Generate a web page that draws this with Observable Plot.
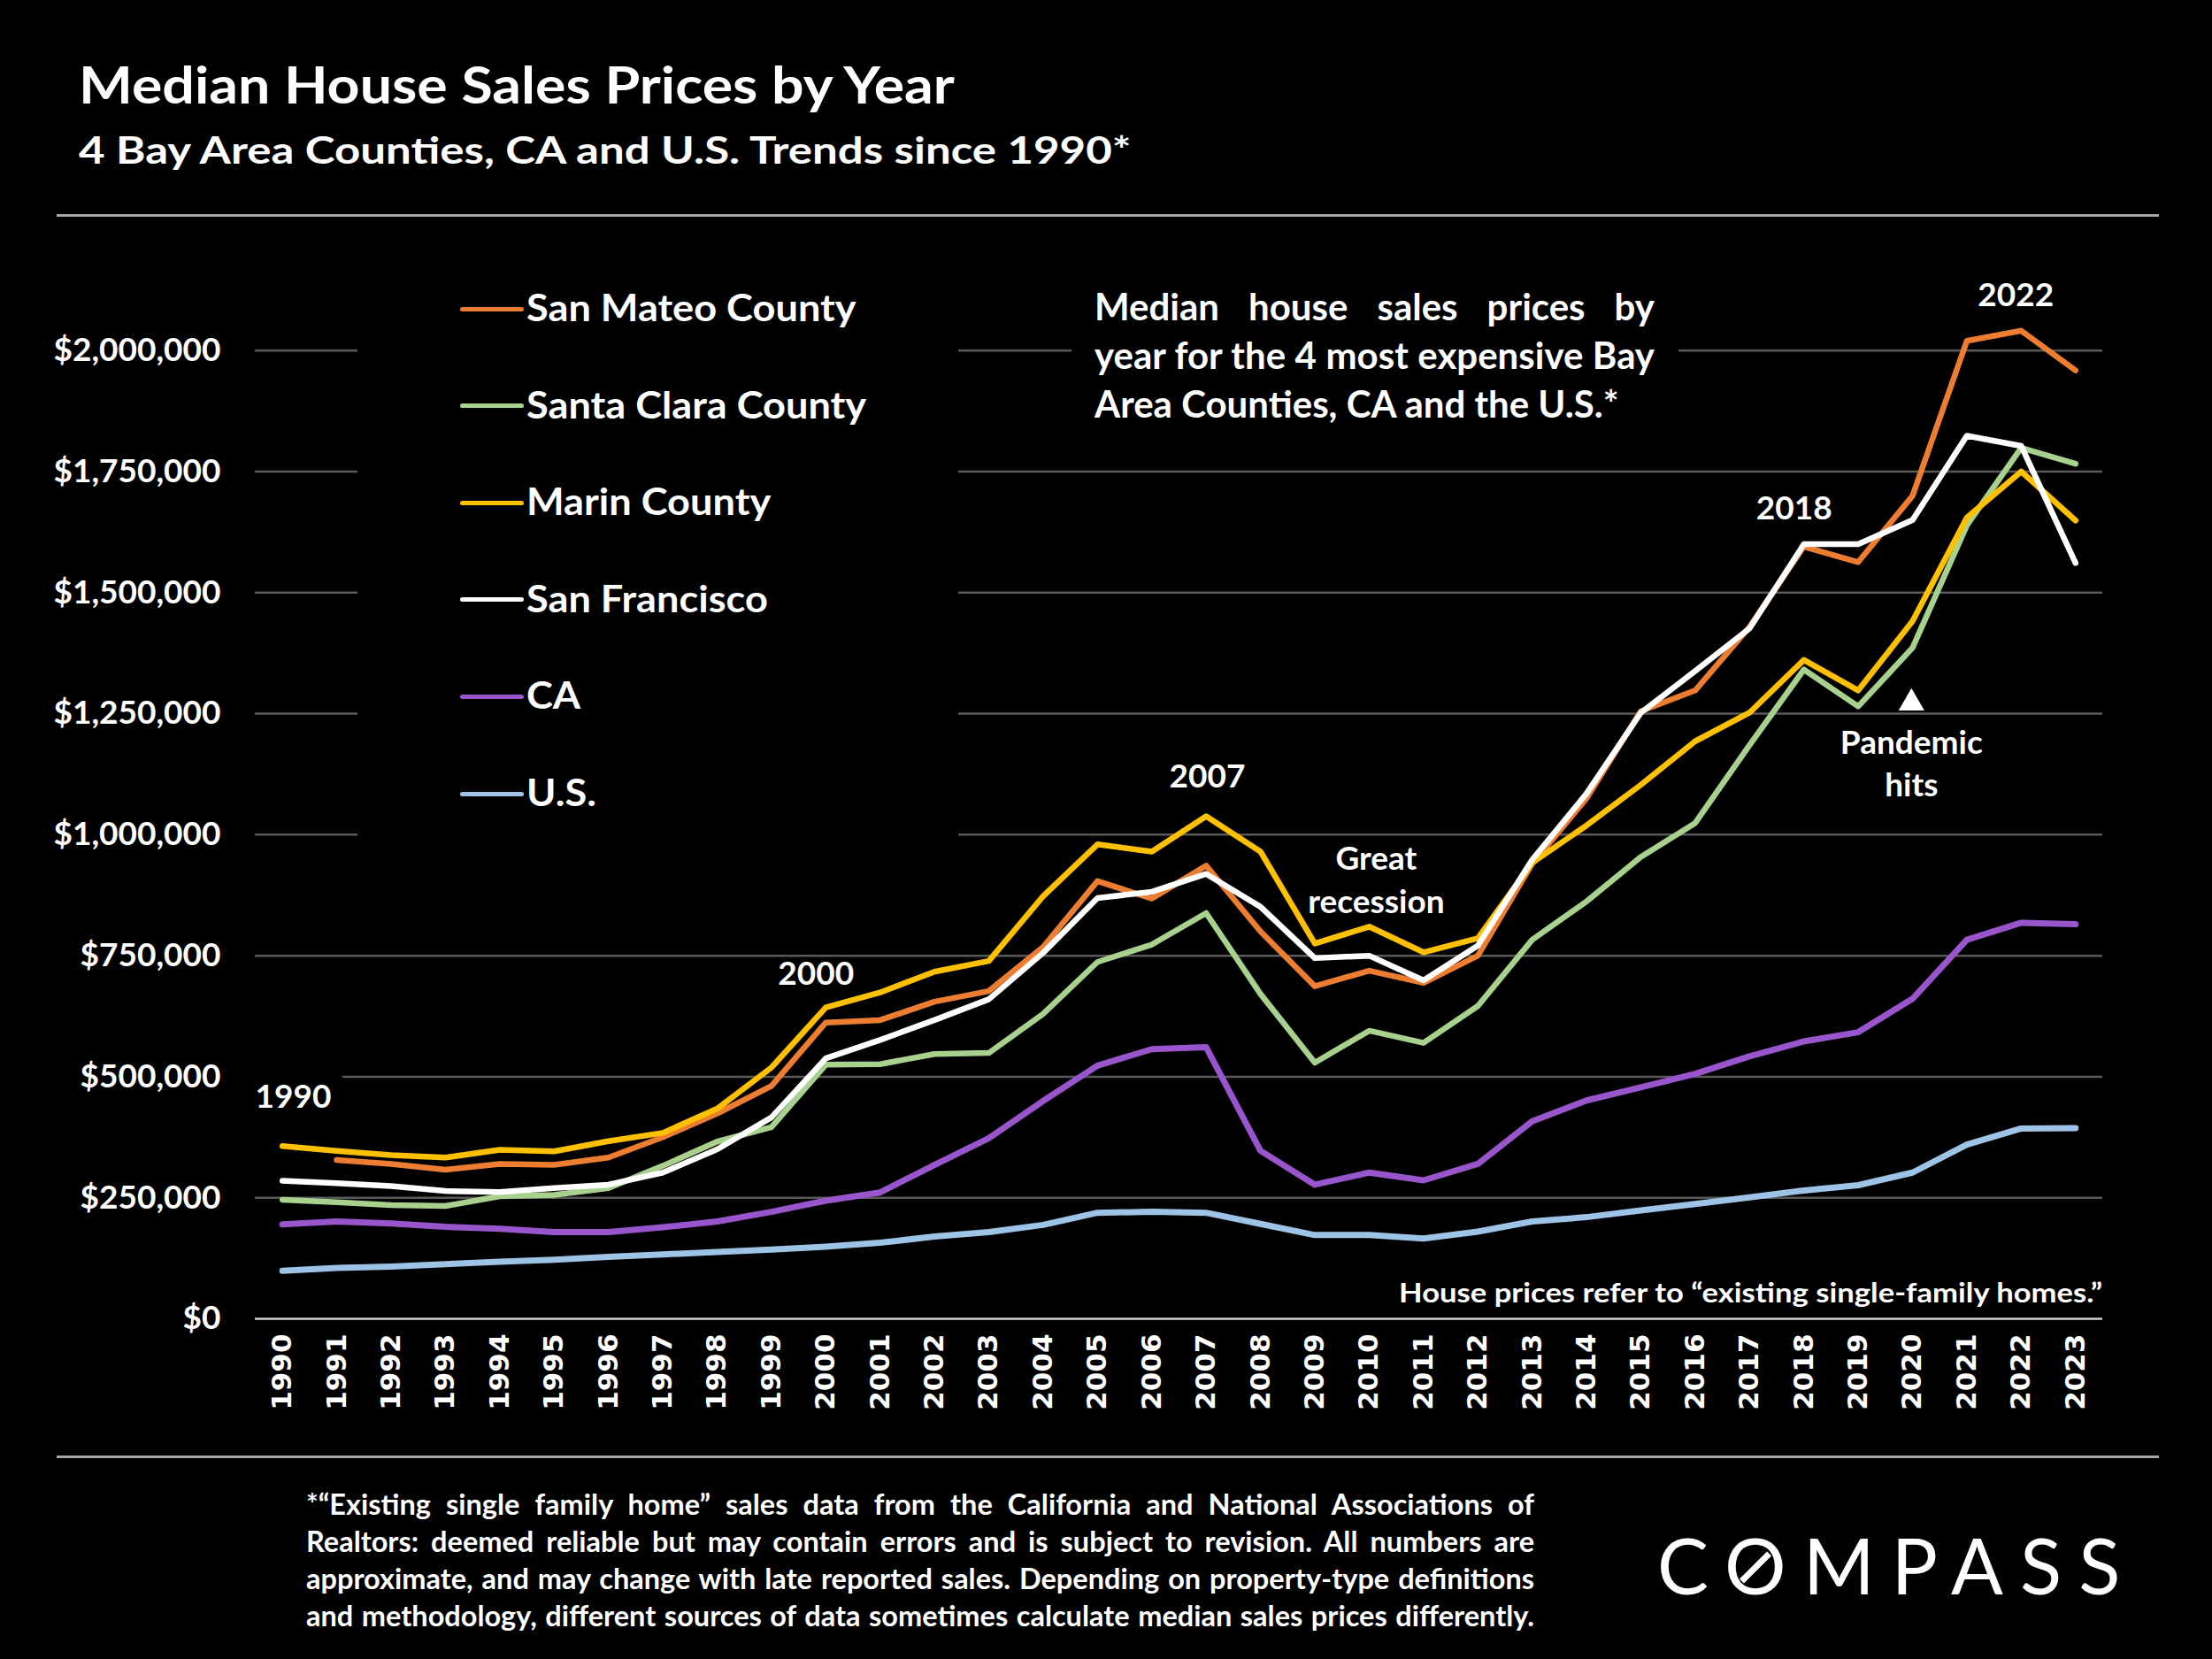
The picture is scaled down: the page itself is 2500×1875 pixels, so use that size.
<!DOCTYPE html>
<html><head><meta charset="utf-8">
<script src="https://cdn.jsdelivr.net/npm/d3@7"></script>
<script src="https://cdn.jsdelivr.net/npm/@observablehq/plot@0.6"></script>
<style>
html,body{margin:0;padding:0;background:#000;}
#page{position:relative;width:2500px;height:1875px;background:#000;overflow:hidden;font-family:Lato,"Open Sans",sans-serif;color:#fff;}
.t{position:absolute;white-space:nowrap;line-height:1;font-weight:700;transform-origin:0 0;color:#fff;}
.rule{position:absolute;height:3px;background:#a6a6a6;}
.mask{position:absolute;background:#000;}
.lg{position:absolute;height:5px;border-radius:2.5px;}
</style></head>
<body><div id="page"></div>
<script>
// ---------- DATA ----------
const years = [1990,1991,1992,1993,1994,1995,1996,1997,1998,1999,2000,2001,2002,2003,2004,2005,2006,2007,2008,2009,2010,2011,2012,2013,2014,2015,2016,2017,2018,2019,2020,2021,2022,2023];
const sanMateo = [null,328000,320000,308000,320000,318000,333000,375000,424000,481000,612000,617000,655000,677000,768000,904000,868000,936000,800000,687000,719000,694000,750000,940000,1075000,1255000,1298000,1429000,1595000,1563000,1700000,2020000,2041000,1959000];
const santaClara = [246000,241000,235000,233000,253000,256000,270000,316000,366000,396000,525000,526000,547000,549000,630000,737000,773000,838000,671000,529000,595000,570000,646000,783000,862000,954000,1024000,1185000,1341000,1265000,1386000,1639000,1799000,1766000];
const marin = [357000,347000,338000,333000,349000,346000,367000,384000,434000,519000,643000,674000,717000,739000,873000,980000,965000,1038000,965000,775000,810000,757000,786000,942000,1019000,1103000,1193000,1252000,1361000,1298000,1441000,1655000,1750000,1649000];
const sanFrancisco = [285000,280000,274000,264000,262000,270000,277000,302000,350000,416000,538000,576000,617000,660000,756000,869000,882000,919000,851000,745000,750000,699000,771000,948000,1085000,1252000,1338000,1426000,1600000,1600000,1650000,1824000,1803000,1561000];
const california = [195000,201000,197000,190000,186000,179000,179000,189000,201000,221000,244000,261000,318000,373000,450000,523000,557000,561000,347000,277000,302000,286000,320000,408000,451000,478000,506000,542000,573000,592000,661000,783000,818000,815000];
const us = [99000,105000,108000,113000,118000,122000,128000,133000,138000,143000,149000,157000,170000,179000,194000,219000,221000,219000,196000,173000,173000,166000,180000,201000,210000,224000,237000,251000,265000,276000,302000,360000,393000,394000];

const seriesNames = ["San Mateo County","Santa Clara County","Marin County","San Francisco","CA","U.S."];
const seriesColors = ["#ED7D31","#A9D18E","#FFC000","#FFFFFF","#9955CC","#9DC3E6"];
const seriesWidths = [6.5,6.5,6.5,6.5,7,7];
const seriesValues = [sanMateo, santaClara, marin, sanFrancisco, california, us];

const yTicks = [0,250000,500000,750000,1000000,1250000,1500000,1750000,2000000];

const annoLabels = ["2000","2007","Great","recession","2018","2022","Pandemic","hits"];
const annoYears  = [1999.82,2007.02,2010.13,2010.13,2017.82,2021.9,2019.98,2019.98];
const annoValues = [712000,1119000,949000,860000,1673000,2114000,1188000,1101000];
const firstLabel = [{t:"1990", x:1990.2, y:457000}];
const marker = [{x:2019.98, y:1272000}];

const titleText = "Median House Sales Prices by Year";
const subtitleText = "4 Bay Area Counties, CA and U.S. Trends since 1990*";
const boxLines = ["Median house sales prices by","year for the 4 most expensive Bay","Area Counties, CA and the U.S.*"];
const noteText = "House prices refer to \u201Cexisting single-family homes.\u201D";
const footLines = [
 "*\u201CExisting single family home\u201D sales data from the California and National Associations of",
 "Realtors: deemed reliable but may contain errors and is subject to revision. All numbers are",
 "approximate, and may change with late reported sales. Depending on property-type definitions",
 "and methodology, different sources of data sometimes calculate median sales prices differently."
];

// ---------- CHART ----------
const page = document.getElementById("page");
const rowsFor = k => years.map((yr,i)=>({year:yr, value:seriesValues[k][i]})).filter(d=>d.value!=null);

const svg = Plot.plot({
  width: 2500, height: 1390,
  marginLeft: 288, marginRight: 124, marginTop: 145.7, marginBottom: 150,
  style: {background:"#000", color:"#fff", fontFamily:"Lato, sans-serif"},
  x: {domain:[1989.5, 2023.5]},
  y: {domain:[0, 2000000]},
  marks: [
    Plot.ruleY(yTicks.filter(v=>v>0), {stroke:"#595959", strokeWidth:2.5}),
    Plot.ruleY([0], {stroke:"#d0d0d0", strokeWidth:2.5}),
    ...seriesNames.map((n,k)=>Plot.line(rowsFor(k), {x:"year", y:"value", stroke:seriesColors[k], strokeWidth:seriesWidths[k], strokeLinejoin:"round", strokeLinecap:"round"})),
    Plot.axisY({ticks:yTicks, tickFormat:d3.format("$,"), tickSize:0, tickPadding:39, fontSize:37, fontWeight:"bold", label:null}),
    Plot.axisX({ticks:years, tickFormat:d=>String(d), tickSize:0, tickPadding:17, tickRotate:-90, fontSize:31, fontWeight:"bold", fontFamily:"DejaVu Sans", label:null}),
    Plot.text(firstLabel, {x:"x", y:"y", text:"t", fontSize:37, fontWeight:"bold", fill:"#fff", stroke:"#000", strokeWidth:40, strokeLinejoin:"round", paintOrder:"stroke"}),
    Plot.text(annoLabels, {x:(d,i)=>annoYears[i], y:(d,i)=>annoValues[i], text:d=>d, fontSize:37, fontWeight:"bold", fill:"#fff"}),
    Plot.dot(marker, {x:"x", y:"y", symbol:"triangle", r:10.8, fill:"#fff", stroke:null})
  ]
});
svg.style.position = "absolute";
svg.style.left = "0px";
svg.style.top = "250px";
page.appendChild(svg);

// ---------- OVERLAYS ----------
function div(cls, css){ const d=document.createElement("div"); d.className=cls; Object.assign(d.style, css); page.appendChild(d); return d; }
div("rule", {left:"64px", top:"242px", width:"2376px"});
div("rule", {left:"64px", top:"1645px", width:"2376px"});
div("mask", {left:"404px", top:"300px", width:"679px", height:"700px"});
div("mask", {left:"1211px", top:"320px", width:"686px", height:"180px"});

function makeText(html, o){
  const el = document.createElement("div");
  el.className = "t";
  el.style.fontSize = o.size + "px";
  if (o.weight) el.style.fontWeight = o.weight;
  if (o.family) el.style.fontFamily = o.family;
  el.innerHTML = html;
  const mk = document.createElement("span");
  mk.style.cssText = "display:inline-block;width:0;height:0;vertical-align:baseline";
  el.appendChild(mk);
  el.style.left = "0px"; el.style.top = "0px";
  page.appendChild(el);
  return {el, mk};
}
function setBaseline(t, baseline){
  const pr = page.getBoundingClientRect();
  const b0 = t.mk.getBoundingClientRect().top - pr.top - parseFloat(t.el.style.top);
  t.el.style.top = (baseline - b0) + "px";
}
function esc(s){ return s.replace(/&/g,"&amp;").replace(/</g,"&lt;"); }
function fitLine(str, o){
  const t = makeText(esc(str), o);
  const w0 = t.el.offsetWidth;
  const k = o.width ? o.width / w0 : 1;
  t.el.style.transform = `scaleX(${k})`;
  t.el.style.left = (o.right != null ? o.right - w0*k : o.x) + "px";
  setBaseline(t, o.baseline);
  return t;
}
function justifiedBlock(lines, o){
  const ts = lines.map(s => makeText(esc(s), o));
  const m = Math.max(...ts.map(t=>t.el.offsetWidth));
  const k = Math.min(1, o.width/(m+2));
  ts.forEach((t,i)=>{
    t.el.style.width = (o.width/k) + "px";
    t.el.style.whiteSpace = "normal";
    t.el.style.textAlign = "justify";
    t.el.style.textAlignLast = (o.lastNatural && i===lines.length-1) ? "left" : "justify";
    t.el.style.transform = `scaleX(${k})`;
    t.el.style.left = o.x + "px";
    setBaseline(t, o.baselines[i]);
  });
}

fitLine(titleText, {x:89, baseline:117, size:58, width:990});
fitLine(subtitleText, {x:89, baseline:185, size:42, width:1190});
justifiedBlock(boxLines, {x:1237, width:633, size:42, baselines:[362,417,472], lastNatural:true});
fitLine(noteText, {right:2376, baseline:1472, size:31, width:795});
justifiedBlock(footLines, {x:346, width:1388, size:32.5, baselines:[1712,1754,1796,1838]});

// legend
(function(){
  const probe = makeText(esc(seriesNames[0]), {size:42});
  const k = 373 / probe.el.offsetWidth;
  probe.el.remove();
  seriesNames.forEach((n,i)=>{
    const cy = 349 + 109.6*i;
    div("lg", {left:"520px", top:(cy-2.5)+"px", width:"72px", background:seriesColors[i]});
    const t = makeText(esc(n), {size:42});
    t.el.style.transform = `scaleX(${k})`;
    t.el.style.left = "595px";
    setBaseline(t, cy+14);
  });
})();

// logo
(function(){
  const t = makeText('C<span class="o">O</span>MPASS', {size:87, weight:400});
  const w0 = t.el.offsetWidth;
  const ls = (524 - w0)/6;
  t.el.style.letterSpacing = ls + "px";
  t.el.style.left = "1873px";
  setBaseline(t, 1802);
  const pr = page.getBoundingClientRect();
  const r = t.el.querySelector(".o").getBoundingClientRect();
  const cx = r.left - pr.left + (r.width - ls)/2;
  const cy = 1771.5;
  div("", {position:"absolute", left:(cx-22)+"px", top:(cy-3.5)+"px", width:"44px", height:"7px", background:"#fff", transform:"rotate(-45deg)"});
})();
</script>
</body></html>
